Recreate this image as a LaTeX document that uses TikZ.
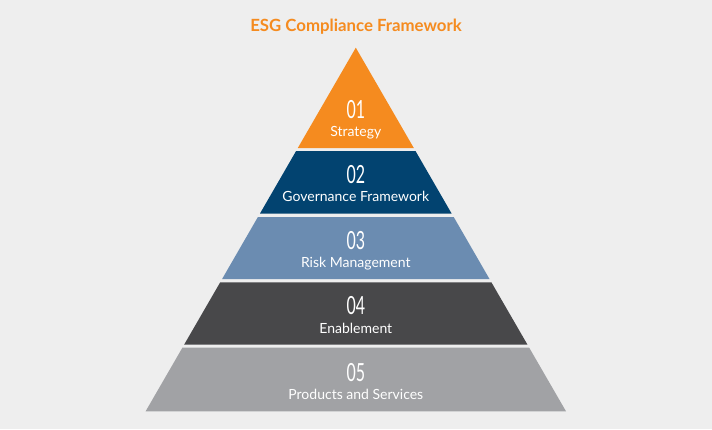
\documentclass[tikz,border=0pt]{standalone}
\usepackage{fontspec}
\setmainfont{Lato}
\newfontfamily\numfont[FakeStretch=0.64]{Lato}
\definecolor{bgC}{RGB}{238,238,238}
\definecolor{orC}{RGB}{245,139,31}
\definecolor{navC}{RGB}{2,67,112}
\definecolor{stC}{RGB}{107,140,177}
\definecolor{dkC}{RGB}{72,72,74}
\definecolor{grC}{RGB}{161,162,165}
\tikzset{
  numtxt/.style={anchor=base, text=white, inner sep=0pt, font=\numfont\fontsize{25}{25}\selectfont},
  labtxt/.style={anchor=base, text=white, inner sep=0pt, font=\fontsize{14}{14}\selectfont},
  ttl/.style={anchor=base, text=orC, inner sep=0pt, font=\bfseries\fontsize{16.8}{16.8}\selectfont}
}
\begin{document}
\begin{tikzpicture}[x=1pt,y=-1pt]
\fill[bgC] (0,0) rectangle (712,429);
\useasboundingbox (0,0) rectangle (712,429);
\def\cx{355.8}
% layers
\fill[orC] (\cx,47.7) -- (\cx+58.0,148) -- (\cx-58.0,148) -- cycle;
\fill[navC] (\cx-59.7,151) -- (\cx+59.7,151) -- (\cx+95.8,213.5) -- (\cx-95.8,213.5) -- cycle;
\fill[stC] (\cx-97.9,217) -- (\cx+97.9,217) -- (\cx+133.7,279) -- (\cx-133.7,279) -- cycle;
\fill[dkC] (\cx-135.6,282.3) -- (\cx+135.6,282.3) -- (\cx+171.7,344.7) -- (\cx-171.7,344.7) -- cycle;
\fill[grC] (\cx-173.4,347.7) -- (\cx+173.4,347.7) -- (\cx+210.2,411.3) -- (\cx-210.2,411.3) -- cycle;
% title
\node[ttl] (title) at (356,31) {ESG Compliance Framework};
% texts
\node[numtxt] (n1) at (\cx,118.3) {01};
\node[labtxt] (l1) at (\cx,136.3) {Strategy};
\node[numtxt] (n2) at (\cx,183.6) {02};
\node[labtxt] (l2) at (\cx,201.7) {Governance Framework};
\node[numtxt] (n3) at (\cx,249.2) {03};
\node[labtxt] (l3) at (\cx,267.2) {Risk Management};
\node[numtxt] (n4) at (\cx,314.9) {04};
\node[labtxt] (l4) at (\cx,333.0) {Enablement};
\node[numtxt] (n5) at (\cx,381.5) {05};
\node[labtxt] (l5) at (\cx,399.5) {Products and Services};
\end{tikzpicture}
\end{document}
